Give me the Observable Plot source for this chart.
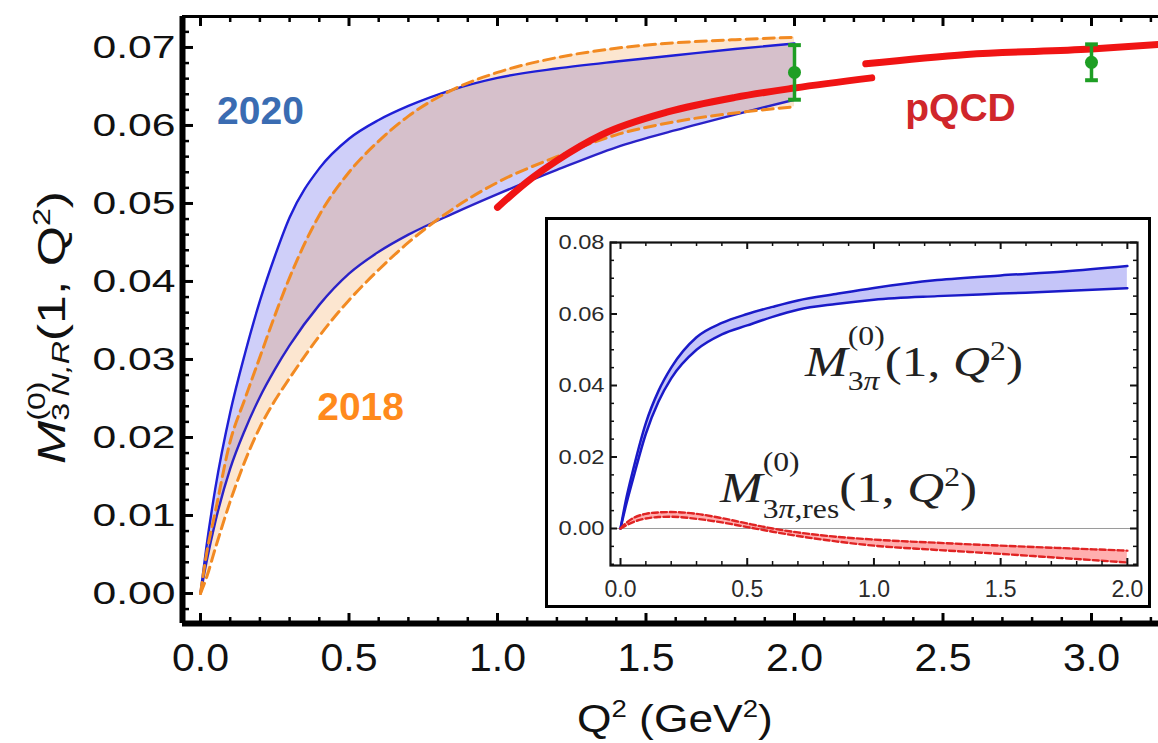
<!DOCTYPE html>
<html><head><meta charset="utf-8">
<script src="https://cdn.jsdelivr.net/npm/d3@7"></script>
<script src="https://cdn.jsdelivr.net/npm/@observablehq/plot@0.6"></script>
<style>
html,body{margin:0;padding:0;background:#fff;overflow:hidden;}
#wrap{position:relative;width:1158px;height:743px;overflow:hidden;background:#fff;}
#main{position:absolute;left:0;top:0;}
#inset{position:absolute;left:545px;top:217px;width:606px;height:391px;border:3px solid #000;box-sizing:border-box;background:#fff;}
#inset svg,#main svg{display:block;}
</style></head>
<body><div id="wrap"><div id="main"></div><div id="inset"></div></div>
<script>
// ---------- main chart data ----------
const q2 = [0, 0.02, 0.05, 0.1, 0.15, 0.2, 0.25, 0.3, 0.4, 0.5, 0.6, 0.7, 0.85, 1.0, 1.2, 1.4, 1.6, 1.8, 2.0];
const band2020Upper = [0, 0.0060, 0.0135, 0.0232, 0.0308, 0.0375, 0.0432, 0.0482, 0.0545, 0.0583, 0.0607, 0.0625, 0.0646, 0.0661, 0.0673, 0.0682, 0.0690, 0.0698, 0.0705];
const band2020Lower = [0, 0.0040, 0.0092, 0.0160, 0.0210, 0.0252, 0.0287, 0.0318, 0.0370, 0.0410, 0.0438, 0.0460, 0.0487, 0.0512, 0.0543, 0.0572, 0.0594, 0.0614, 0.0633];
const band2018Upper = [0, 0.0050, 0.0105, 0.0195, 0.0250, 0.0303, 0.0356, 0.0405, 0.0485, 0.0540, 0.0580, 0.0612, 0.0646, 0.0668, 0.0687, 0.0699, 0.0706, 0.0710, 0.0713];
const band2018Lower = [0, 0.0020, 0.0058, 0.0118, 0.0170, 0.0213, 0.0247, 0.0276, 0.0330, 0.0376, 0.0415, 0.0450, 0.0493, 0.0527, 0.0560, 0.0588, 0.0605, 0.0616, 0.0624];
const pqcdLowQ2 = [1.0, 1.1, 1.2, 1.35, 1.57, 1.8, 2.0, 2.26];
const pqcdLowVal = [0.0495, 0.0528, 0.0555, 0.0588, 0.0617, 0.0636, 0.0648, 0.0661];
const pqcdHighQ2 = [2.24, 2.58, 3.0, 3.23];
const pqcdHighVal = [0.0679, 0.0691, 0.0698, 0.0704];
const dataQ2 = [2.0, 3.0];
const dataVal = [0.0668, 0.0681];
const dataLo = [0.0633, 0.0658];
const dataHi = [0.0703, 0.0704];
const xTicks = [0, 0.5, 1.0, 1.5, 2.0, 2.5, 3.0];
const yTicks = [0, 0.01, 0.02, 0.03, 0.04, 0.05, 0.06, 0.07];
const labelText = ["2020", "2018", "pQCD"];
const labelQ2 = [0.202, 0.539, 2.559];
const labelVal = [0.0618, 0.0239, 0.0622];

// ---------- inset data ----------
const insetQ2 = [0, 0.02, 0.05, 0.1, 0.15, 0.2, 0.3, 0.4, 0.5, 0.6, 0.7, 0.85, 1.0, 1.25, 1.5, 1.75, 2.0];
const m3piUpper = [0, 0.0075, 0.0165, 0.0295, 0.0385, 0.0450, 0.0535, 0.0575, 0.0600, 0.0620, 0.0638, 0.0656, 0.0673, 0.0695, 0.0708, 0.0719, 0.0734];
const m3piLower = [0, 0.0060, 0.0140, 0.0265, 0.0355, 0.0420, 0.0500, 0.0543, 0.0568, 0.0592, 0.0612, 0.0628, 0.0640, 0.0650, 0.0657, 0.0664, 0.0672];
const resUpper = [0, 0.0014, 0.0029, 0.0041, 0.0045, 0.0046, 0.0041, 0.0029, 0.0014, 0.0000, -0.0011, -0.0023, -0.0031, -0.0040, -0.0048, -0.0055, -0.0062];
const resLower = [0, 0.0008, 0.0018, 0.0028, 0.0032, 0.0033, 0.0027, 0.0017, 0.0004, -0.0009, -0.0021, -0.0036, -0.0048, -0.0060, -0.0071, -0.0083, -0.0095];
const insetXTicks = [0, 0.5, 1.0, 1.5, 2.0];
const insetYTicks = [0, 0.02, 0.04, 0.06, 0.08];

// ---------- tables ----------
const rows = q2.map((q, i) => ({q, hi20: band2020Upper[i], lo20: band2020Lower[i], hi18: band2018Upper[i], lo18: band2018Lower[i]}));
const pqcdLow = pqcdLowQ2.map((q, i) => ({q, v: pqcdLowVal[i]}));
const pqcdHigh = pqcdHighQ2.map((q, i) => ({q, v: pqcdHighVal[i]}));
const points = dataQ2.map((q, i) => ({q, v: dataVal[i], lo: dataLo[i], hi: dataHi[i]}));
const labels = labelText.map((t, i) => ({t, q: labelQ2[i], v: labelVal[i]}));
const insetRows = insetQ2.map((q, i) => ({q, hi: m3piUpper[i], lo: m3piLower[i], rhi: resUpper[i], rlo: resLower[i]}));

const near = (a, list) => list.some(b => Math.abs(a - b) < 1e-9);
const xMinor = d3.range(0, 33).map(i => i / 10).filter(v => !near(v, xTicks));
const yMinor = d3.range(-1, 37).map(i => i * 0.002).filter(v => !near(v, yTicks));
const ixMinor = d3.range(0, 21).map(i => i / 10).filter(v => !near(v, insetXTicks));
const iyMinor = d3.range(-2, 17).map(i => i * 0.005).filter(v => !near(v, insetYTicks));

const curve = "monotone-x";
const GREEN = "#1e9e24";
const capSymbol = {draw(ctx, size) { const s = Math.sqrt(size) * 0.9; ctx.moveTo(-s, 0); ctx.lineTo(s, 0); }};

// ---------- main plot ----------
const W = 1158, H = 743, mL = 182, mR = 0, mT = 16, mB = 120;
const pW = W - mL - mR, pH = H - mT - mB;
const xDom = [-0.0606, 3.2256], yDom = [-0.00385, 0.07397];

const mainPlot = Plot.plot({
  width: W, height: H, marginLeft: mL, marginRight: mR, marginTop: mT, marginBottom: mB,
  x: {domain: xDom}, y: {domain: yDom},
  style: {fontFamily: "'Liberation Sans', Arial, sans-serif", color: "#111", background: "transparent", overflow: "visible"},
  marks: [
    Plot.areaY(rows, {x: "q", y1: "lo20", y2: "hi20", fill: "#4040e6", fillOpacity: 0.25, curve}),
    Plot.areaY(rows, {x: "q", y1: "lo18", y2: "hi18", fill: "#f08c28", fillOpacity: 0.22, curve}),
    Plot.line(rows, {x: "q", y: "hi20", stroke: "#1f1fd6", strokeWidth: 2.4, curve}),
    Plot.line(rows, {x: "q", y: "lo20", stroke: "#2a22c8", strokeWidth: 2.4, curve}),
    Plot.line(rows, {x: "q", y: "hi18", stroke: "#f28a22", strokeWidth: 3, strokeDasharray: "11,6", curve}),
    Plot.line(rows, {x: "q", y: "lo18", stroke: "#f28a22", strokeWidth: 3, strokeDasharray: "11,6", curve}),
    Plot.line(pqcdLow, {x: "q", y: "v", stroke: "#f01414", strokeWidth: 7, curve}),
    Plot.line(pqcdHigh, {x: "q", y: "v", stroke: "#f01414", strokeWidth: 7, curve}),
    Plot.ruleX(points, {x: "q", y1: "lo", y2: "hi", stroke: GREEN, strokeWidth: 3.5}),
    Plot.dot(points, {x: "q", y: "lo", symbol: capSymbol, r: 4, stroke: GREEN, strokeWidth: 4}),
    Plot.dot(points, {x: "q", y: "hi", symbol: capSymbol, r: 4, stroke: GREEN, strokeWidth: 4}),
    Plot.dot(points, {x: "q", y: "v", r: 6.5, fill: GREEN}),
    Plot.text(labels.filter(d => d.t === "2020"), {x: "q", y: "v", text: "t", fill: "#3a6cb2", fontWeight: "bold", fontSize: 39}),
    Plot.text(labels.filter(d => d.t === "2018"), {x: "q", y: "v", text: "t", fill: "#ff8a1c", fontWeight: "bold", fontSize: 39}),
    Plot.text(labels.filter(d => d.t === "pQCD"), {x: "q", y: "v", text: "t", fill: "#d0262a", fontWeight: "bold", fontSize: 39}),
    // inward ticks
    Plot.tickX(xTicks, {x: d => d, insetTop: pH - 10, stroke: "#000", strokeWidth: 3}),
    Plot.tickX(xMinor, {x: d => d, insetTop: pH - 6, stroke: "#000", strokeWidth: 2.5}),
    Plot.tickX(xTicks, {x: d => d, insetBottom: pH - 10, stroke: "#000", strokeWidth: 3}),
    Plot.tickX(xMinor, {x: d => d, insetBottom: pH - 6, stroke: "#000", strokeWidth: 2.5}),
    Plot.tickY(yTicks, {y: d => d, insetRight: pW - 11, stroke: "#000", strokeWidth: 3}),
    Plot.tickY(yMinor, {y: d => d, insetRight: pW - 7, stroke: "#000", strokeWidth: 2.5}),
    // frame
    Plot.ruleY([yDom[1]], {stroke: "#000", strokeWidth: 3}),
    Plot.ruleX([xDom[0]], {stroke: "#000", strokeWidth: 6}),
    Plot.ruleY([yDom[0]], {stroke: "#000", strokeWidth: 6}),
    Plot.axisX({ticks: xTicks, tickSize: 0, tickPadding: 20, fontSize: 39, tickFormat: d3.format(".1f"), label: null}),
    Plot.axisY({ticks: yTicks, tickSize: 0, tickPadding: 7, fontSize: 32, tickFormat: d3.format(".2f"), label: null})
  ]
});
document.getElementById("main").appendChild(mainPlot);
d3.select(mainPlot).selectAll('g[aria-label="y-axis tick label"] text').attr("textLength", 83).attr("lengthAdjust", "spacingAndGlyphs");
d3.select(mainPlot).selectAll('g[aria-label="x-axis tick label"] text').attr("textLength", 57).attr("lengthAdjust", "spacingAndGlyphs");

// ---------- inset plot ----------
const iW = 600, iH = 385, imL = 62, imR = 11, imT = 22, imB = 40;
const ipW = iW - imL - imR, ipH = iH - imT - imB;
const insetPlot = Plot.plot({
  width: iW, height: iH, marginLeft: imL, marginRight: imR, marginTop: imT, marginBottom: imB,
  x: {domain: [-0.0395, 2.040]}, y: {domain: [-0.01035, 0.08]},
  style: {fontFamily: "'Liberation Sans', Arial, sans-serif", color: "#2a2a2a", background: "transparent", overflow: "visible"},
  marks: [
    Plot.ruleY([0], {stroke: "#9a9a9a", strokeWidth: 1}),
    Plot.areaY(insetRows, {x: "q", y1: "lo", y2: "hi", fill: "#4a4ae8", fillOpacity: 0.32, curve}),
    Plot.line(insetRows, {x: "q", y: "hi", stroke: "#1a1ac8", strokeWidth: 2.5, curve}),
    Plot.line(insetRows, {x: "q", y: "lo", stroke: "#1a1ac8", strokeWidth: 2.5, curve}),
    Plot.areaY(insetRows, {x: "q", y1: "rlo", y2: "rhi", fill: "#ff4d4d", fillOpacity: 0.45, curve}),
    Plot.line(insetRows, {x: "q", y: "rhi", stroke: "#e02424", strokeWidth: 2.4, strokeDasharray: "6,3", curve}),
    Plot.line(insetRows, {x: "q", y: "rlo", stroke: "#e02424", strokeWidth: 2.4, strokeDasharray: "6,3", curve}),
    Plot.tickX(insetXTicks, {x: d => d, insetTop: ipH - 7, stroke: "#111", strokeWidth: 2}),
    Plot.tickX(ixMinor, {x: d => d, insetTop: ipH - 4, stroke: "#111", strokeWidth: 1.5}),
    Plot.tickX(insetXTicks, {x: d => d, insetBottom: ipH - 7, stroke: "#111", strokeWidth: 2}),
    Plot.tickX(ixMinor, {x: d => d, insetBottom: ipH - 4, stroke: "#111", strokeWidth: 1.5}),
    Plot.tickY(insetYTicks, {y: d => d, insetRight: ipW - 7, stroke: "#111", strokeWidth: 2}),
    Plot.tickY(iyMinor, {y: d => d, insetRight: ipW - 4, stroke: "#111", strokeWidth: 1.5}),
    Plot.tickY(insetYTicks, {y: d => d, insetLeft: ipW - 7, stroke: "#111", strokeWidth: 2}),
    Plot.tickY(iyMinor, {y: d => d, insetLeft: ipW - 4, stroke: "#111", strokeWidth: 1.5}),
    Plot.frame({stroke: "#111", strokeWidth: 2.2}),
    Plot.axisX({ticks: insetXTicks, tickSize: 0, tickPadding: 15, fontSize: 23, tickFormat: d3.format(".1f"), label: null}),
    Plot.axisY({ticks: insetYTicks, tickSize: 0, tickPadding: 6, fontSize: 21, tickFormat: d3.format(".2f"), label: null})
  ]
});
document.getElementById("inset").appendChild(insetPlot);
d3.select(insetPlot).selectAll('g[aria-label="y-axis tick label"] text').attr("textLength", 46).attr("lengthAdjust", "spacingAndGlyphs");

// ---------- math labels (built as real text, stacked sup/sub) ----------
function mathLabel(svgNode, cfg) {
  const {x, y, rotate = 0, size, family, pieces, width, anchor = "start", color = "#111", supShift, subShift, scriptScale = 0.62} = cfg;
  const g = d3.select(svgNode).append("g")
    .attr("transform", `translate(${x},${y}) rotate(${rotate})`)
    .attr("font-family", family).attr("fill", color).attr("text-anchor", "start");
  const inner = g.append("g");
  let cx = 0, stackX = 0, supEnd = 0;
  for (const p of pieces) {
    const isScript = p.role === "sup" || p.role === "sub";
    const fs = isScript ? size * scriptScale : size;
    const dy = p.shift !== undefined ? p.shift : (p.role === "sup" ? -supShift : p.role === "sub" ? subShift : 0);
    const px = p.role === "sub" ? stackX : cx;
    const t = inner.append("text").attr("x", px).attr("y", dy).attr("font-size", fs).attr("text-anchor", "start");
    for (const seg of p.segs) t.append("tspan").attr("font-style", seg.italic ? "italic" : "normal").text(seg.text);
    const w = t.node().getComputedTextLength();
    if (p.role === "sup") { stackX = cx; cx += w; supEnd = cx; }
    else if (p.role === "sub") { cx = Math.max(supEnd, stackX + w); }
    else cx += w;
  }
  const sx = width ? width / cx : 1;
  const ox = anchor === "middle" ? -(cx * sx) / 2 : 0;
  inner.attr("transform", `translate(${ox},0) scale(${sx},1)`);
}
const NB = "\u00a0";
const sans = "'Liberation Sans', Arial, sans-serif";
const serif = "'Liberation Serif', 'Times New Roman', serif";

// y-axis title
mathLabel(mainPlot, {
  x: mL - 117, y: mT + pH * 0.513, rotate: -90, size: 39, family: sans, width: 273, anchor: "middle",
  supShift: 20, subShift: 4,
  pieces: [
    {segs: [{text: "M", italic: true}]},
    {role: "sup", segs: [{text: "(0)"}]},
    {role: "sub", segs: [{text: "3\u2009"}, {text: "N,R", italic: true}]},
    {segs: [{text: "(1," + NB + "Q"}]},
    {role: "sup", shift: -15, segs: [{text: "2"}]},
    {segs: [{text: ")"}]}
  ]
});
// x-axis title
mathLabel(mainPlot, {
  x: mL + pW * 0.505, y: H - 11, size: 38, family: sans, width: 196, anchor: "middle",
  supShift: 15, subShift: 0,
  pieces: [
    {segs: [{text: "Q"}]},
    {role: "sup", segs: [{text: "2"}]},
    {segs: [{text: NB + "(GeV"}]},
    {role: "sup", segs: [{text: "2"}]},
    {segs: [{text: ")"}]}
  ]
});
// inset labels
const ix = insetPlot.scale("x"), iy = insetPlot.scale("y");
mathLabel(insetPlot, {
  x: ix.apply(0.73), y: iy.apply(0.0425), size: 43, family: serif, width: 218, color: "#222",
  supShift: 31, subShift: 14,
  pieces: [
    {segs: [{text: "M", italic: true}]},
    {role: "sup", segs: [{text: "(0)"}]},
    {role: "sub", segs: [{text: "3"}, {text: "π", italic: true}]},
    {segs: [{text: "(1," + NB}, {text: "Q", italic: true}]},
    {role: "sup", shift: -16, segs: [{text: "2"}]},
    {segs: [{text: ")"}]}
  ]
});
mathLabel(insetPlot, {
  x: ix.apply(0.395), y: iy.apply(0.0073), size: 43, family: serif, width: 257, color: "#222",
  supShift: 31, subShift: 16,
  pieces: [
    {segs: [{text: "M", italic: true}]},
    {role: "sup", segs: [{text: "(0)"}]},
    {role: "sub", segs: [{text: "3"}, {text: "π", italic: true}, {text: ",res"}]},
    {segs: [{text: "(1," + NB}, {text: "Q", italic: true}]},
    {role: "sup", shift: -16, segs: [{text: "2"}]},
    {segs: [{text: ")"}]}
  ]
});
</script>
</body></html>
